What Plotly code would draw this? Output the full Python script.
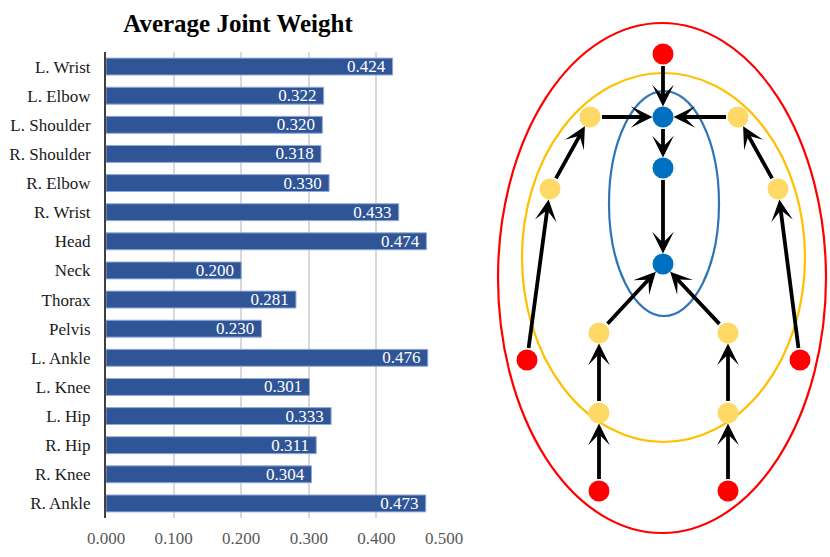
import plotly.graph_objects as go

# bar chart data
joints = ['L. Wrist', 'L. Elbow', 'L. Shoulder', 'R. Shoulder', 'R. Elbow', 'R. Wrist',
          'Head', 'Neck', 'Thorax', 'Pelvis', 'L. Ankle', 'L. Knee', 'L. Hip',
          'R. Hip', 'R. Knee', 'R. Ankle']
weights = [0.424, 0.322, 0.320, 0.318, 0.330, 0.433, 0.474, 0.200, 0.281,
           0.230, 0.476, 0.301, 0.333, 0.311, 0.304, 0.473]
x_ticks = [0.0, 0.1, 0.2, 0.3, 0.4, 0.5]

# skeleton diagram (pixel coords on the right panel)
node_names = ['head', 'neck', 'thorax', 'pelvis', 'l_sho', 'r_sho', 'l_elb', 'r_elb',
              'l_wri', 'r_wri', 'l_hip', 'r_hip', 'l_kne', 'r_kne', 'l_ank', 'r_ank']
node_x = [663, 663, 663, 663, 590, 738, 550, 778, 527, 800, 599, 728, 599, 728, 599, 728]
node_y = [54, 117, 168, 264, 117, 117, 189, 189, 360, 360, 333, 333, 413, 413, 491, 491]
node_group = ['outer', 'inner', 'inner', 'inner', 'middle', 'middle', 'middle', 'middle',
              'outer', 'outer', 'middle', 'middle', 'middle', 'middle', 'outer', 'outer']
edges = [('head', 'neck'), ('l_sho', 'neck'), ('r_sho', 'neck'), ('neck', 'thorax'),
         ('thorax', 'pelvis'), ('l_hip', 'pelvis'), ('r_hip', 'pelvis'),
         ('l_elb', 'l_sho'), ('r_elb', 'r_sho'), ('l_wri', 'l_elb'), ('r_wri', 'r_elb'),
         ('l_kne', 'l_hip'), ('r_kne', 'r_hip'), ('l_ank', 'l_kne'), ('r_ank', 'r_kne')]
# ellipse boxes: x0, x1, y0, y1
rings = {'outer': (498, 826, 23, 533), 'middle': (522, 805, 73, 442), 'inner': (609, 719, 91, 316)}

group_fill = {'outer': '#FF0000', 'middle': '#FFD966', 'inner': '#0070C0'}
ring_line = {'outer': '#FF0000', 'middle': '#FFC000', 'inner': '#2E75B6'}

W, H = 830, 557
serif = 'Liberation Serif, Times New Roman, serif'

fig = go.Figure()

fig.add_trace(go.Bar(
    x=weights, y=joints, orientation='h', width=0.58,
    marker=dict(color='#2F5597', line=dict(color='#8FAADC', width=1)),
    texttemplate='%{x:.3f}\u00a0', textposition='inside', insidetextanchor='end',
    constraintext='none', textangle=0,
    textfont=dict(family=serif, size=17, color='white'),
    xaxis='x', yaxis='y', showlegend=False,
))

for g in ['outer', 'middle', 'inner']:
    xs = [x for x, gg in zip(node_x, node_group) if gg == g]
    ys = [y for y, gg in zip(node_y, node_group) if gg == g]
    fig.add_trace(go.Scatter(
        x=xs, y=ys, mode='markers', xaxis='x2', yaxis='y2', showlegend=False,
        marker=dict(size=21, color=group_fill[g], line=dict(width=0)),
    ))

for g, (x0, x1, y0, y1) in rings.items():
    fig.add_shape(type='circle', xref='x2', yref='y2', x0=x0, x1=x1, y0=y0, y1=y1,
                  line=dict(color=ring_line[g], width=2.2), layer='below')

idx = {n: i for i, n in enumerate(node_names)}
for a, b in edges:
    fig.add_annotation(
        x=node_x[idx[b]], y=node_y[idx[b]], ax=node_x[idx[a]], ay=node_y[idx[a]],
        xref='x2', yref='y2', axref='x2', ayref='y2', text='', showarrow=True,
        arrowhead=3, arrowsize=0.95, arrowwidth=3.8, arrowcolor='black',
        standoff=10.5, startstandoff=10.5,
    )

fig.update_layout(
    width=W, height=H,
    margin=dict(l=0, r=0, t=0, b=0),
    paper_bgcolor='white', plot_bgcolor='white',
    bargap=0.42,
    title=dict(text='<b>Average Joint Weight</b>', x=238 / W, xanchor='center',
               y=1 - 23 / H, yanchor='middle',
               font=dict(family=serif, size=25, color='black')),
    xaxis=dict(domain=[106 / W, 444 / W], range=[0, 0.5], tickvals=x_ticks,
               tickformat='.3f', showgrid=True, gridcolor='#D9D9D9', gridwidth=1.5,
               zeroline=False, showline=False, ticks='', ticklabelstandoff=8,
               automargin=False,
               tickfont=dict(family=serif, size=17, color='#595959'), fixedrange=True),
    yaxis=dict(domain=[1 - 518 / H, 1 - 52 / H], categoryorder='array',
               categoryarray=joints, autorange='reversed', showgrid=False,
               showline=True, linecolor='#404040', linewidth=2, ticks='',
               ticklabelstandoff=10, automargin=False,
               tickfont=dict(family=serif, size=17, color='#1a1a1a')),
    xaxis2=dict(domain=[490 / W, 1], range=[490, 830], visible=False, anchor='y2',
                automargin=False),
    yaxis2=dict(domain=[0, 1], range=[557, 0], visible=False, anchor='x2',
                automargin=False),
)

fig.write_html('out.html', config={'displayModeBar': False},
               post_script="document.body.style.margin='0';")
